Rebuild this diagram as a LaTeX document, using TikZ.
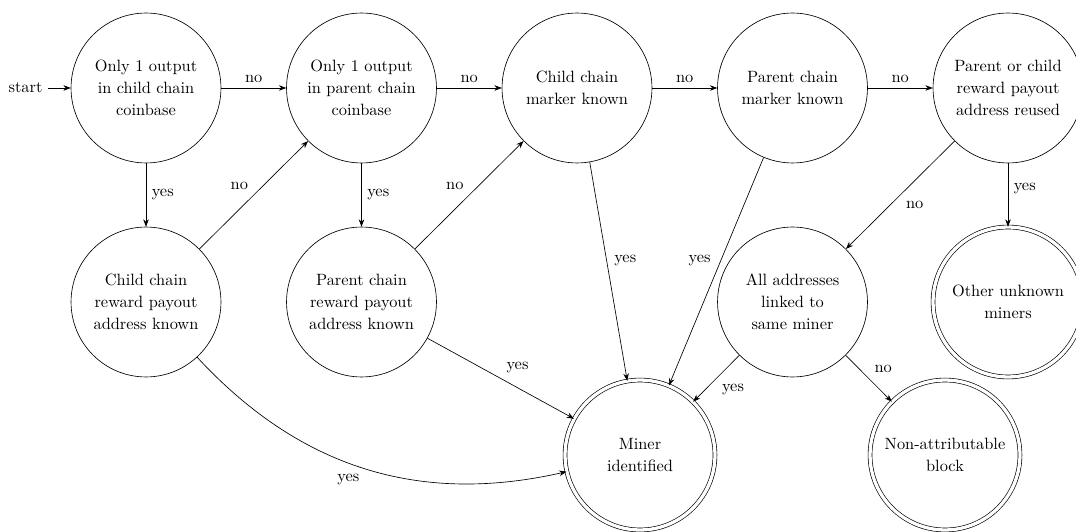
\documentclass[tikz,border=0pt]{standalone}
\usetikzlibrary{arrows.meta}
\begin{document}
\begin{tikzpicture}[x=0.611pt,y=-0.611pt,
  state/.style={circle,draw,minimum size=91.6pt,inner sep=0pt,align=center,font=\fontsize{10pt}{13.3pt}\selectfont},
  final/.style={state,double,double distance=2pt},
  arr/.style={-{Stealth[length=4.5pt,width=3.4pt]}},
  lbl/.style={font=\fontsize{10pt}{12pt}\selectfont,auto}]
\useasboundingbox (0,0) rectangle (1076,532);
\node[state] (n1) at (146,88) {Only 1 output\\in child chain\\coinbase};
\node[state] (n2) at (361.5,88) {Only 1 output\\in parent chain\\coinbase};
\node[state] (n3) at (577,88) {Child chain\\marker known};
\node[state] (n4) at (792.5,88) {Parent chain\\marker known};
\node[state] (n5) at (1008,88) {Parent or child\\reward payout\\address reused};
\node[state] (r1) at (146,302) {Child chain\\reward payout\\address known};
\node[state] (r2) at (361.5,302) {Parent chain\\reward payout\\address known};
\node[state] (all) at (792.5,302) {All addresses\\linked to\\same miner};
\node[final] (other) at (1008,302) {Other unknown\\miners};
\node[final] (miner) at (640,455) {Miner\\identified};
\node[final] (non) at (945,455) {Non-attributable\\block};
\node[font=\fontsize{10pt}{12pt}\selectfont] (start) at (25.5,88) {start};
\draw[arr] (start) -- (n1);
\draw[arr] (n1) -- node[lbl] {no} (n2);
\draw[arr] (n2) -- node[lbl] {no} (n3);
\draw[arr] (n3) -- node[lbl] {no} (n4);
\draw[arr] (n4) -- node[lbl] {no} (n5);
\draw[arr] (n1) -- node[lbl] {yes} (r1);
\draw[arr] (n2) -- node[lbl] {yes} (r2);
\draw[arr] (r1) -- node[lbl] {no} (n2);
\draw[arr] (r2) -- node[lbl] {no} (n3);
\draw[arr] (n3) -- node[lbl] {yes} (miner);
\draw[arr] (n4) -- node[lbl,swap] {yes} (miner);
\draw[arr] (n5) -- node[lbl] {no} (all);
\draw[arr] (n5) -- node[lbl,pos=0.4] {yes} (other);
\draw[arr] (all) -- node[lbl] {yes} (miner);
\draw[arr] (all) -- node[lbl] {no} (non);
\draw[arr] (r2) -- node[lbl] {yes} (miner);
\draw[arr] (r1) to[bend right=30] node[lbl,swap] {yes} (miner);
\end{tikzpicture}
\end{document}
